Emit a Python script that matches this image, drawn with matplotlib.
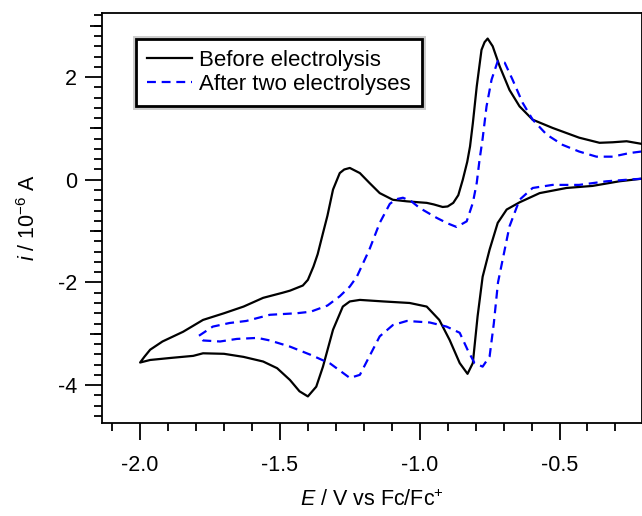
import matplotlib
matplotlib.use("Agg")
from matplotlib import pyplot as plt
from matplotlib.ticker import MultipleLocator, FixedLocator
import matplotlib.patheffects as pe
import numpy as np

plt.rcParams['font.family'] = ['Liberation Sans', 'DejaVu Sans']
plt.rcParams['mathtext.fontset'] = 'custom'
plt.rcParams['mathtext.rm'] = 'Liberation Sans'
plt.rcParams['mathtext.it'] = 'Liberation Sans:italic'
plt.rcParams['axes.unicode_minus'] = False

# before electrolysis: upper branch right -> left, then lower branch left -> right
before_E = [-0.207, -0.26, -0.31, -0.357, -0.43, -0.525, -0.596, -0.643, -0.679, -0.714,
            -0.739, -0.757, -0.768, -0.779, -0.796, -0.81, -0.82, -0.83, -0.846, -0.862,
            -0.88, -0.9, -0.918, -0.95, -0.975, -1.0, -1.046, -1.096, -1.143, -1.18,
            -1.214, -1.25, -1.27, -1.286, -1.31, -1.33, -1.346, -1.365, -1.38, -1.40,
            -1.418, -1.464, -1.49, -1.56, -1.63, -1.70, -1.775, -1.846, -1.92, -1.964,
            -1.985, -2.0,
            -1.964, -1.89, -1.81, -1.775, -1.70, -1.63, -1.56, -1.51, -1.464, -1.43,
            -1.40, -1.37, -1.346, -1.31, -1.275, -1.25, -1.214, -1.13, -1.036, -0.975,
            -0.93, -0.893, -0.857, -0.829, -0.81, -0.793, -0.775, -0.75, -0.721, -0.689,
            -0.643, -0.571, -0.475, -0.382, -0.286, -0.207]
before_i = [0.70, 0.75, 0.73, 0.72, 0.82, 1.01, 1.17, 1.43, 1.75, 2.21,
            2.6, 2.75, 2.68, 2.53, 1.82, 1.1, 0.65, 0.35, 0.0, -0.3,
            -0.45, -0.52, -0.53, -0.48, -0.45, -0.44, -0.42, -0.39, -0.26, -0.06,
            0.13, 0.23, 0.2, 0.13, -0.19, -0.7, -1.04, -1.45, -1.69, -1.95,
            -2.06, -2.16, -2.2, -2.3, -2.47, -2.6, -2.73, -2.96, -3.15, -3.31,
            -3.45, -3.56,
            -3.51, -3.47, -3.43, -3.38, -3.39, -3.45, -3.54, -3.67, -3.9, -4.12,
            -4.22, -4.03, -3.64, -2.92, -2.47, -2.37, -2.34, -2.37, -2.4, -2.47,
            -2.73, -3.12, -3.57, -3.78, -3.57, -2.66, -1.89, -1.36, -0.84, -0.58,
            -0.44, -0.26, -0.16, -0.12, -0.03, 0.02]

# after two electrolyses
after_E = [-0.207, -0.25, -0.31, -0.368, -0.43, -0.489, -0.546, -0.596, -0.632, -0.668,
           -0.696, -0.721, -0.743, -0.761, -0.775, -0.786, -0.796, -0.81, -0.832, -0.868,
           -0.9, -0.94, -1.0, -1.03, -1.06, -1.085, -1.107, -1.143, -1.18, -1.225,
           -1.25, -1.286, -1.33, -1.39, -1.44, -1.536, -1.62, -1.68, -1.74, -1.79,
           -1.775, -1.714, -1.654, -1.58, -1.536, -1.464, -1.39, -1.32, -1.26, -1.25,
           -1.214, -1.18, -1.143, -1.096, -1.046, -0.964, -0.904, -0.857, -0.829, -0.804,
           -0.775, -0.75, -0.735, -0.72, -0.696, -0.679, -0.643, -0.596, -0.525, -0.43,
           -0.332, -0.26, -0.207]
after_i = [0.55, 0.52, 0.45, 0.45, 0.55, 0.68, 0.88, 1.17, 1.5, 1.95,
           2.28, 2.31, 1.95, 1.43, 0.8, 0.39, -0.06, -0.45, -0.81, -0.92,
           -0.85, -0.74, -0.55, -0.42, -0.35, -0.38, -0.47, -0.84, -1.36, -1.89,
           -2.08, -2.27, -2.45, -2.57, -2.6, -2.63, -2.75, -2.79, -2.86, -3.04,
           -3.13, -3.15, -3.1, -3.08, -3.13, -3.25, -3.41, -3.58, -3.82, -3.86,
           -3.8, -3.44, -3.05, -2.83, -2.75, -2.78, -2.86, -2.98, -3.31, -3.57,
           -3.64, -3.44, -2.8, -2.0, -1.36, -0.91, -0.39, -0.16, -0.1, -0.1,
           -0.03, 0.0, 0.02]

fig = plt.figure(figsize=(6.42, 5.16), dpi=100)
ax = fig.add_axes([0.159, 0.180, 0.841, 0.795])

ax.plot(before_E, before_i, color='black', linewidth=1.6, solid_joinstyle='round',
        label='Before electrolysis')
ax.plot(after_E, after_i, color='#0000ff', linewidth=1.6, linestyle=(0, (4, 2.6)),
        dash_joinstyle='round', label='After two electrolyses')

ax.set_xlim(-2.136, -0.205)
ax.set_ylim(-4.74, 3.25)

ax.xaxis.set_major_locator(MultipleLocator(0.5))
ax.xaxis.set_minor_locator(MultipleLocator(0.1))
ax.yaxis.set_major_locator(FixedLocator([-4, -2, 0, 2]))
ax.yaxis.set_minor_locator(FixedLocator(np.arange(-4.6, 3.3, 0.2)))

ax.tick_params(which='major', direction='out', length=12, width=1.3, labelsize=15.5)
ax.tick_params(which='minor', direction='out', length=5.5, width=1.3)
ax.tick_params(axis='x', which='major', pad=11)
ax.tick_params(axis='y', which='major', pad=6)

# medium ticks at odd integers on the y axis
sec = ax.secondary_yaxis('left')
sec.set_yticks([-3, -1, 1, 3])
sec.set_yticklabels([])
sec.tick_params(direction='out', length=8.5, width=1.3)
sec.spines['left'].set_visible(False)

for s in ax.spines.values():
    s.set_linewidth(1.3)

ax.xaxis.set_major_formatter(plt.FuncFormatter(lambda v, p: '%.1f' % v))
ax.set_xlabel(r'$E$ / V vs Fc/Fc$^{+}$', fontsize=15.5, labelpad=10)
ax.set_ylabel(r'$i$ / 10$^{-6}$ A', fontsize=15.5, labelpad=13)

leg = ax.legend(loc='upper left', bbox_to_anchor=(0.063, 0.937), borderaxespad=0,
                fontsize=16, handlelength=2.0, handletextpad=0.35, labelspacing=0.12,
                fancybox=False, borderpad=0.5, framealpha=1)
frame = leg.get_frame()
frame.set_edgecolor('black')
frame.set_linewidth(2)
frame.set_path_effects([pe.withStroke(linewidth=5, foreground='#cccccc')])

fig.savefig('out.png', dpi=100)
